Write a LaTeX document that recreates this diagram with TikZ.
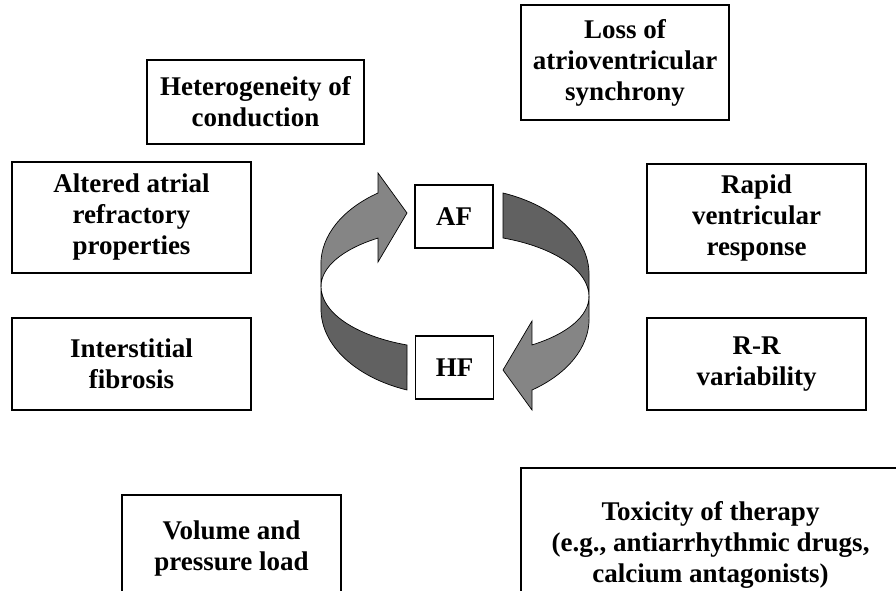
\documentclass[tikz,border=0pt]{standalone}
\usepackage{fontspec}
\setmainfont{Liberation Serif}
\usetikzlibrary{positioning}

\tikzset{
  cause/.style={draw, line width=1.6pt, fill=white, align=center, inner sep=0pt,
    font=\fontsize{27}{31}\selectfont\bfseries},
  loopbox/.style={draw, line width=1.6pt, fill=white, inner sep=0pt,
    minimum width=78pt, minimum height=63pt, font=\fontsize{27}{31}\selectfont\bfseries},
  backband/.style={fill=black!48, draw=black, line width=0.7pt},
  frontband/.style={fill=black!62, draw=black, line width=0.7pt}
}

\begin{document}
\begin{tikzpicture}[x=1pt, y=1pt]
        \clip (0,0) rectangle (896,590);
        \fill[white] (0,0) rectangle (896,590);

        % causes round the loop
        \node[cause, minimum width=217pt, minimum height=84pt] (het) at (255.5, 488) {Heterogeneity of\\conduction};
        \node[cause, minimum width=208pt, minimum height=115pt] (loss) at (625, 527.5) {Loss of\\atrioventricular\\synchrony};
        \node[cause, minimum width=239pt, minimum height=111pt] (alt) at (131.5, 372.5) {Altered atrial\\refractory\\properties};
        \node[cause, minimum width=219pt, minimum height=109pt] (rapid) at (756.5, 371.5) {Rapid\\ventricular\\response};
        \node[cause, minimum width=239pt, minimum height=92pt] (inter) at (131.5, 226) {Interstitial\\fibrosis};
        \node[cause, minimum width=219pt, minimum height=92pt] (rr) at (756.5, 226) {R-R\\variability};
        \node[cause, minimum width=219pt, minimum height=108pt] (vol) at (231.5, 41) {Volume and\\pressure load};
        \node[cause, minimum width=379pt, minimum height=154pt] (tox) at (710.5, 45) {Toxicity of therapy\\(e.g., antiarrhythmic drugs,\\calcium antagonists)};

        % the loop
        \node[loopbox] (af) at (454, 373.5) {AF};
        \node[loopbox] (hf) at (454.5, 222.5) {HF};

        \coordinate (mid) at (455, 298.5);
        \foreach \turn in {0, 180} {
            \begin{scope}[rotate around={\turn:(mid)}]
                \path[backband] (378,397) arc[start angle=124.8, end angle=180, x radius=133, y radius=86.6]
                    -- (321,303.5) arc[start angle=180, end angle=124.8, x radius=133, y radius=59]
                    -- (378,328) -- (407,377) -- (378,417) -- cycle;
                \path[frontband] (321,303.5) -- (321,281)
                    arc[start angle=180, end angle=249.3, x radius=133, y radius=86.6]
                    -- (407,245) arc[start angle=249.3, end angle=180, x radius=133, y radius=62.6] -- cycle;
            \end{scope}
        }
\end{tikzpicture}
\end{document}
